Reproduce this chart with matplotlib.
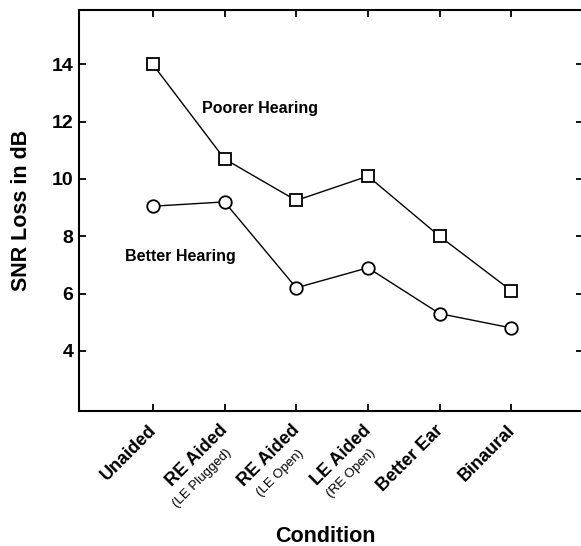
import numpy as np
import matplotlib
matplotlib.use('Agg')
import matplotlib.pyplot as plt
from matplotlib import transforms

plt.rcParams['font.family'] = ['Liberation Sans', 'DejaVu Sans']

conditions = ['Unaided', 'RE Aided', 'RE Aided', 'LE Aided', 'Better Ear', 'Binaural']
sub_labels = ['', '(LE Plugged)', '(LE Open)', '(RE Open)', '', '']
poorer = [14.0, 10.7, 9.25, 10.1, 8.0, 6.1]
better = [9.05, 9.2, 6.2, 6.9, 5.3, 4.8]
yticks = [4, 6, 8, 10, 12, 14]

W, H = 581, 546
fig = plt.figure(figsize=(W / 100, H / 100), dpi=100)
ax = fig.add_axes([79 / W, 1 - 411 / H, (583 - 79) / W, (411 - 10) / H])

x = np.arange(len(conditions))
ax.plot(x, poorer, color='black', lw=1.0, marker='s', ms=9, mfc='white', mec='black', mew=1.3)
ax.plot(x, better, color='black', lw=1.0, marker='o', ms=9, mfc='white', mec='black', mew=1.3)

ax.set_xlim(-1.03, 6.0)
ax.set_ylim(1.9, 15.9)
ax.set_yticks(yticks)
ax.set_xticks(x)
ax.set_xticklabels([])
ax.tick_params(direction='in', length=5, width=1.3, top=True, right=True, pad=4)
ax.tick_params(axis='y', labelsize=14)
for lab in ax.get_yticklabels():
    lab.set_fontweight('bold')
for s in ax.spines.values():
    s.set_linewidth(1.5)

fig.text(202 / W, 1 - 109 / H, 'Poorer Hearing', fontsize=11.5, fontweight='bold', va='center')
fig.text(125 / W, 1 - 257 / H, 'Better Hearing', fontsize=11.5, fontweight='bold', va='center')

# rotated tick labels
base = ax.get_xaxis_transform()
for i, (name, sub) in enumerate(zip(conditions, sub_labels)):
    off = transforms.offset_copy(base, fig=fig, x=-5, y=-11, units='dots')
    ax.text(i, 0, name, transform=off, rotation=45, rotation_mode='anchor',
            ha='right', va='top', fontsize=13, fontweight='bold')
    if sub:
        off2 = transforms.offset_copy(base, fig=fig, x=-5 + 6, y=-11 - 25, units='dots')
        ax.text(i, 0, sub, transform=off2, rotation=45, rotation_mode='anchor',
                ha='right', va='top', fontsize=9.5)

fig.text(325 / W, 1 - 537 / H, 'Condition', ha='center', va='center', fontsize=15.5, fontweight='bold')
fig.text(22 / W, 1 - 210 / H, 'SNR Loss in dB', ha='center', va='center', rotation=90,
         fontsize=15.5, fontweight='bold')

fig.savefig('out.png', dpi=100)
